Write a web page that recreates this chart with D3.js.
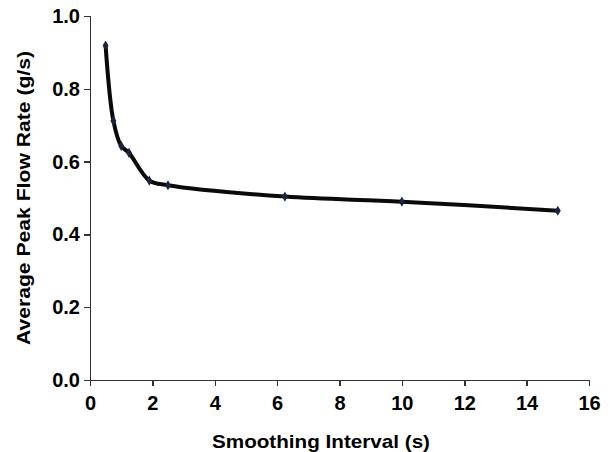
<!DOCTYPE html>
<html>
<head>
	<script src="https://cdn.jsdelivr.net/npm/d3@7/dist/d3.min.js"></script>
	<style>
		body { margin: 0; background: white; }
		text { font-family: "Liberation Sans", Arial, sans-serif; font-weight: bold; fill: black; }
		.tick text { font-size: 20px; }
		.axis path, .axis line { stroke: #333; stroke-width: 1.5; shape-rendering: crispEdges; }
	</style>
</head>
<body>
	<svg id="main" width="611" height="452"></svg>
	<script>
		// smoothing interval (s) vs average peak flow rate (g/s)
		var intervals = [0.5, 0.75, 1.0, 1.25, 1.9, 2.5, 6.25, 10, 15];
		var flowRates = [0.919, 0.712, 0.643, 0.624, 0.548, 0.535, 0.504, 0.490, 0.465];
		var xTicks = [0, 2, 4, 6, 8, 10, 12, 14, 16];
		var yTicks = [0.0, 0.2, 0.4, 0.6, 0.8, 1.0];

		var svg = d3.select('#main');

		var x = d3.scaleLinear().domain([0, 16]).range([90, 589]);
		var y = d3.scaleLinear().domain([0, 1]).range([380, 16]);

		var xAxis = d3.axisBottom(x).tickValues(xTicks).tickSize(6).tickSizeOuter(6).tickPadding(10)
			.tickFormat(d3.format('d'));
		var yAxis = d3.axisLeft(y).tickValues(yTicks).tickSize(6).tickSizeOuter(6).tickPadding(4)
			.tickFormat(d3.format('.1f'));

		svg.append('g').attr('class', 'axis')
			.attr('transform', 'translate(0,380)')
			.call(xAxis);

		svg.append('g').attr('class', 'axis')
			.attr('transform', 'translate(90,0)')
			.call(yAxis);

		var line = d3.line()
			.x(function(d, i) { return x(intervals[i]); })
			.y(function(d) { return y(d); })
			.curve(d3.curveCatmullRom.alpha(0.5));

		svg.append('path')
			.datum(flowRates)
			.attr('d', line)
			.attr('fill', 'none')
			.attr('stroke', '#0a0a0a')
			.attr('stroke-width', 4)
			.attr('stroke-linejoin', 'round');

		svg.selectAll('.marker').data(flowRates).enter().append('path')
			.attr('class', 'marker')
			.attr('d', d3.symbol().type(d3.symbolDiamond).size(30))
			.attr('transform', function(d, i) { return 'translate(' + x(intervals[i]) + ',' + y(d) + ')'; })
			.attr('fill', '#1c2340');

		svg.append('text')
			.attr('x', 321).attr('y', 448)
			.attr('text-anchor', 'middle')
			.style('font-size', '19px')
			.attr('textLength', 218)
			.attr('lengthAdjust', 'spacingAndGlyphs')
			.text('Smoothing Interval (s)');

		svg.append('text')
			.attr('transform', 'translate(30,198) rotate(-90)')
			.attr('text-anchor', 'middle')
			.style('font-size', '19px')
			.attr('textLength', 294)
			.attr('lengthAdjust', 'spacingAndGlyphs')
			.text('Average Peak Flow Rate (g/s)');
	</script>
</body>
</html>
